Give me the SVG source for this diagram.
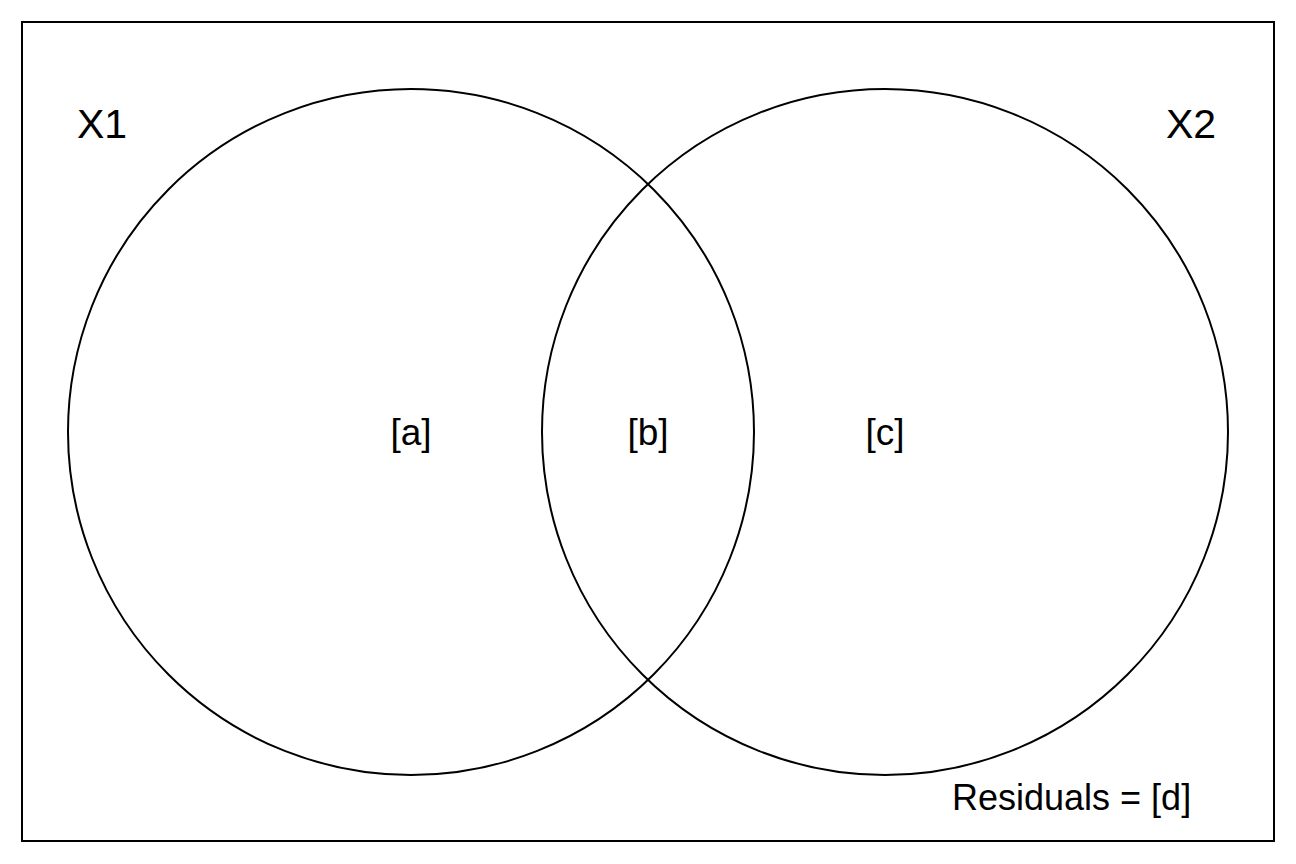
<svg xmlns="http://www.w3.org/2000/svg" width="1296" height="864" viewBox="0 0 1296 864">
<style>
.ln{fill:none;stroke:#000;stroke-width:2}
.t{font-family:"Liberation Sans",Arial,sans-serif;fill:#000}
.big{font-size:41px}
.lab{font-size:37px;text-anchor:middle}
</style>
<rect width="1296" height="864" fill="#fff"/>
<g id="frame"><rect class="ln" x="22" y="22" width="1252" height="819"/></g>
<g id="circleX1"><circle class="ln" cx="411" cy="432" r="343"/></g>
<g id="circleX2"><circle class="ln" cx="885" cy="432" r="343"/></g>
<g id="labels">
<text class="t big" x="77" y="138">X1</text>
<text class="t big" x="1166" y="138">X2</text>
<text class="t lab" x="411" y="445">[a]</text>
<text class="t lab" x="648" y="445">[b]</text>
<text class="t lab" x="885" y="445">[c]</text>
<text class="t" font-size="36" x="952" y="810">Residuals = [d]</text>
</g>
</svg>
